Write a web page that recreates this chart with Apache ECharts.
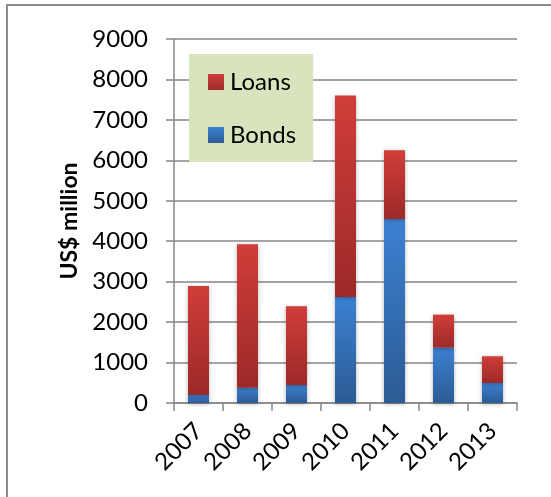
<!DOCTYPE html>
<html>
<head>
<meta charset="utf-8">
<script src="https://cdn.jsdelivr.net/npm/echarts@6/dist/echarts.min.js"></script>
<style>
  html, body { margin: 0; padding: 0; background: #fff; }
  #chart { width: 551px; height: 497px; }
</style>
</head>
<body>
<div id="chart"></div>
<script>
// values, US$ million
const years = ['2007', '2008', '2009', '2010', '2011', '2012', '2013']
const bonds = [200, 380, 445, 2620, 4550, 1370, 495]
const loans = [2690, 3545, 1945, 4980, 1700, 815, 660]
const yTicks = [0, 1000, 2000, 3000, 4000, 5000, 6000, 7000, 8000, 9000]

const chart = echarts.init(document.getElementById('chart'))
const font = 'Lato, "Open Sans", sans-serif'
const grey = '#868686'

function grad(top, bottom) {
  return new echarts.graphic.LinearGradient(0, 0, 0, 1, [
    { offset: 0, color: top },
    { offset: 1, color: bottom }
  ])
}

const option = {
  animation: false,
  backgroundColor: '#fff',
  grid: {
    left: 174,
    right: 34,
    top: 39,
    bottom: 94
  },
  legend: {
    data: ['Loans', 'Bonds'],
    orient: 'vertical',
    left: 189,
    top: 54,
    backgroundColor: '#d7e4bd',
    padding: [16, 17, 15, 19],
    itemGap: 29,
    itemWidth: 16,
    itemHeight: 16,
    icon: 'rect',
    textStyle: {
      fontFamily: font,
      fontSize: 24,
      lineHeight: 24,
      color: '#000',
      padding: [0, 0, 0, 1]
    }
  },
  xAxis: {
    type: 'category',
    data: years,
    axisLine: { lineStyle: { color: grey, width: 1.5 } },
    axisTick: { show: true, length: 8, lineStyle: { color: grey, width: 1.5 } },
    axisLabel: {
      rotate: 45,
      margin: 24,
      fontFamily: font,
      fontSize: 24,
      color: '#000'
    }
  },
  yAxis: {
    type: 'value',
    min: yTicks[0],
    max: yTicks[yTicks.length - 1],
    interval: 1000,
    name: 'US$ million',
    nameLocation: 'middle',
    nameGap: 92,
    nameTextStyle: {
      fontFamily: font,
      fontSize: 23,
      fontWeight: 'bold',
      color: '#000'
    },
    axisLine: { show: true, lineStyle: { color: grey, width: 1.5 } },
    axisTick: { show: true, length: 8, lineStyle: { color: grey, width: 1.5 } },
    splitLine: { lineStyle: { color: grey, width: 1.5 } },
    axisLabel: {
      margin: 26,
      fontFamily: font,
      fontSize: 24,
      color: '#000',
      formatter: v => String(v)
    }
  },
  series: [
    {
      name: 'Bonds',
      type: 'bar',
      stack: 'total',
      barWidth: 21,
      data: bonds,
      itemStyle: {
        color: grad('#3c81d2', '#2b5b94'),
        shadowBlur: 4,
        shadowColor: 'rgba(0,0,0,0.3)',
        shadowOffsetY: 1
      }
    },
    {
      name: 'Loans',
      type: 'bar',
      stack: 'total',
      barWidth: 21,
      data: loans,
      itemStyle: {
        color: grad('#d03d3a', '#9c2a28'),
        shadowBlur: 4,
        shadowColor: 'rgba(0,0,0,0.3)',
        shadowOffsetY: 1
      }
    }
  ],
  graphic: [
    {
      type: 'polyline',
      silent: true,
      shape: { points: [[7, 497], [7, 5], [551, 5]] },
      style: { stroke: '#8c8c8c', lineWidth: 2, fill: null }
    }
  ]
}

chart.setOption(option)
</script>
</body>
</html>
